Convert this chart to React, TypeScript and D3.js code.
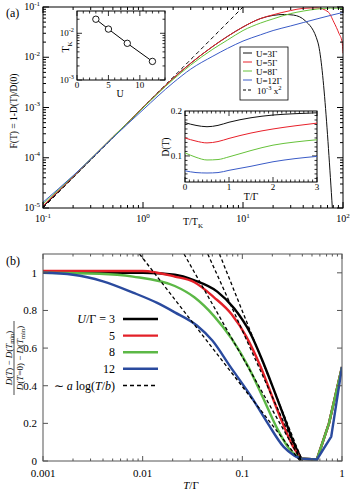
import React from "react";
import * as d3 from "d3";

const FONT = "'Liberation Serif', 'Times New Roman', serif";

// ---------- Panel (a) data ----------
const aBlackX = [0.1, 0.2, 0.5, 1, 2, 3, 5, 7, 10, 15, 20, 26, 32, 42, 56, 80];
const aBlackY = [1.05e-5, 4.1e-5, 2.55e-4, 1.0e-3, 3.8e-3, 7.6e-3, 1.65e-2, 2.6e-2, 4.0e-2, 5.9e-2, 6.8e-2, 7.1e-2, 6.9e-2, 5.3e-2, 2.0e-2, 5e-6];
const aRedX = [0.1, 0.2, 0.5, 1, 2, 3, 5, 7, 10, 15, 20, 30, 40, 55, 71, 81, 91, 98, 100];
const aRedY = [1.1e-5, 4.2e-5, 2.6e-4, 1.0e-3, 3.8e-3, 7.6e-3, 1.65e-2, 2.6e-2, 4.0e-2, 5.9e-2, 7.0e-2, 8.5e-2, 9.4e-2, 9.6e-2, 8.0e-2, 5.0e-2, 3.0e-2, 2.0e-2, 1.2e-2];
const aGreenX = [0.1, 0.2, 0.5, 1, 2, 3, 5, 7, 10, 15, 20, 30, 40, 55, 75, 100];
const aGreenY = [1.2e-5, 4.3e-5, 2.6e-4, 9.8e-4, 3.6e-3, 7.0e-3, 1.45e-2, 2.2e-2, 3.4e-2, 4.8e-2, 5.8e-2, 7.4e-2, 8.3e-2, 9.1e-2, 9.5e-2, 9.3e-2];
const aBlueX = [0.1, 0.2, 0.5, 1, 2, 3, 5, 7, 10, 15, 20, 30, 40, 55, 75, 100];
const aBlueY = [1.3e-5, 4.4e-5, 2.5e-4, 9.0e-4, 3.1e-3, 5.8e-3, 1.05e-2, 1.5e-2, 2.1e-2, 2.8e-2, 3.4e-2, 4.2e-2, 4.9e-2, 5.8e-2, 6.8e-2, 7.8e-2];
const aDashX = [0.1, 10];
const aLegend = ["U=3Γ", "U=5Γ", "U=8Γ", "U=12Γ"];
const aXExp = [-1, 0, 1, 2];
const aYExp = [-5, -4, -3, -2, -1];

// TK inset
const tkU = [3, 5, 8, 12];
const tkVal = [0.02, 0.0123, 0.0061, 0.0025];
const tkXTicks = [0, 5, 10];
const tkYExp = [-3, -2];

// D(T) inset
const dT = [0, 0.25, 0.5, 0.75, 1, 1.5, 2, 2.5, 3];
const dBlack = [0.174, 0.168, 0.165, 0.168, 0.175, 0.185, 0.191, 0.194, 0.196];
const dRed = [0.140, 0.133, 0.129, 0.132, 0.139, 0.151, 0.160, 0.167, 0.173];
const dGreen = [0.107, 0.097, 0.091, 0.092, 0.098, 0.112, 0.124, 0.131, 0.136];
const dBlue = [0.067, 0.063, 0.062, 0.063, 0.068, 0.077, 0.087, 0.094, 0.099];
const dXTicks = [0, 1, 2, 3];
const dYTicks = [0.1, 0.2];

// ---------- Panel (b) data ----------
const bBlackT = [0.001, 0.003, 0.01, 0.021, 0.033, 0.056, 0.083, 0.12, 0.16, 0.21, 0.26, 0.32, 0.39];
const bBlackV = [1.0, 1.0, 1.0, 0.99, 0.96, 0.90, 0.81, 0.68, 0.53, 0.37, 0.24, 0.11, 0.012];
const bRedT = [0.001, 0.003, 0.01, 0.021, 0.033, 0.052, 0.078, 0.11, 0.15, 0.2, 0.25, 0.32, 0.39];
const bRedV = [1.01, 1.01, 1.01, 0.98, 0.95, 0.87, 0.78, 0.66, 0.51, 0.34, 0.21, 0.08, 0.012];
const bGreenT = [0.001, 0.0037, 0.008, 0.021, 0.033, 0.052, 0.078, 0.115, 0.16, 0.22, 0.3, 0.39];
const bGreenV = [1.0, 0.995, 0.98, 0.93, 0.87, 0.77, 0.65, 0.50, 0.34, 0.18, 0.06, 0.012];
const bBlueT = [0.001, 0.002, 0.004, 0.008, 0.014, 0.021, 0.035, 0.05, 0.076, 0.12, 0.18, 0.26, 0.33, 0.39];
const bBlueV = [1.0, 0.99, 0.955, 0.895, 0.84, 0.79, 0.72, 0.64, 0.50, 0.35, 0.20, 0.075, 0.03, 0.012];
// tails beyond the minimum
const bTailT = [0.39, 0.56, 0.74, 1.0];
const bTailV = [0.012, 0.008, 0.2, 0.5];
const bBlueTailT = [0.39, 0.56, 0.78, 1.0];
const bBlueTailV = [0.012, 0.008, 0.13, 0.5];
// dashed fits a*log(T/b): [T at top (value 1.1), T at value 0]
const bFitTop = [0.0093, 0.026, 0.045, 0.059];
const bFitZero = [0.38, 0.39, 0.39, 0.40];
const bXTicks = [0.001, 0.01, 0.1, 1];
const bXLabels = ["0.001", "0.01", "0.1", "1"];
const bYTicks = [0, 0.2, 0.4, 0.6, 0.8, 1];
const bYLabels = ["0", "0.2", "0.4", "0.6", "0.8", "1"];
const bLegend = ["3", "5", "8", "12"];

const aColors = ["#111111", "#e8202a", "#66c23a", "#3a5bc7"];
const bColors = ["#000000", "#e32028", "#5cb846", "#2a4a9e"];

function logMinor(lo: number, hi: number) {
  const out: number[] = [];
  for (let e = Math.floor(Math.log10(lo)) - 1; e <= Math.ceil(Math.log10(hi)); e++)
    for (let k = 2; k <= 9; k++) {
      const v = k * Math.pow(10, e);
      if (v > lo * 1.0001 && v < hi * 0.9999) out.push(v);
    }
  return out;
}

function zip(x: number[], y: number[]) {
  return x.map((v, i) => [v, y[i]] as [number, number]);
}

function Pow10({ x, y, e, anchor = "middle", size = 10 }: any) {
  return (
    <text x={x} y={y} textAnchor={anchor} fontSize={size} fontFamily={FONT}>
      10<tspan dy={-size * 0.45} fontSize={size * 0.7}>{e}</tspan>
    </text>
  );
}

export default function App() {
  // Panel a scales
  const ax = d3.scaleLog().domain([0.1, 100]).range([43, 343]);
  const ay = d3.scaleLog().domain([1e-5, 1e-1]).range([208, 7]);
  const aLine = d3.line<[number, number]>().x((d) => ax(d[0])).y((d) => ay(d[1])).curve(d3.curveMonotoneX);
  const aSeries = [zip(aBlackX, aBlackY), zip(aRedX, aRedY), zip(aGreenX, aGreenY), zip(aBlueX, aBlueY)];
  const dashPts: [number, number][] = d3.range(0, 41).map((i) => {
    const lx = Math.log10(aDashX[0]) + (i / 40) * (Math.log10(aDashX[1]) - Math.log10(aDashX[0]));
    const x = Math.pow(10, lx);
    return [x, 1e-3 * x * x];
  });

  // TK inset
  const tx = d3.scaleLinear().domain([0, 14]).range([77, 165]);
  const ty = d3.scaleLog().domain([1e-3, 3e-2]).range([80, 11]);
  const tkLine = d3.line<[number, number]>().x((d) => tx(d[0])).y((d) => ty(d[1]));

  // D inset
  const dx = d3.scaleLinear().domain([0, 3]).range([185, 317]);
  const dy = d3.scaleLinear().domain([0.042, 0.2]).range([182, 111]);
  const dLine = d3.line<[number, number]>().x((d) => dx(d[0])).y((d) => dy(d[1])).curve(d3.curveMonotoneX);
  const dSeries = [dBlack, dRed, dGreen, dBlue];

  // Panel b scales
  const bx = d3.scaleLog().domain([0.001, 1]).range([43, 342]);
  const by = d3.scaleLinear().domain([0, 1.1]).range([461, 254]);
  const bLine = d3.line<[number, number]>().x((d) => bx(d[0])).y((d) => by(d[1])).curve(d3.curveMonotoneX);
  const bLin = d3.line<[number, number]>().x((d) => bx(d[0])).y((d) => by(d[1]));
  const bSeries = [zip(bBlackT, bBlackV), zip(bRedT, bRedV), zip(bGreenT, bGreenV), zip(bBlueT, bBlueV)];
  const bTails = [zip(bTailT, bTailV), zip(bTailT, bTailV), zip(bTailT, bTailV), zip(bBlueTailT, bBlueTailV)];

  const aMajX = aXExp.map((e) => Math.pow(10, e));
  const aMajY = aYExp.map((e) => Math.pow(10, e));
  const aMinX = logMinor(0.1, 100);
  const aMinY = logMinor(1e-5, 1e-1);
  const tkMinY = logMinor(1e-3, 3e-2);
  const bMinX = logMinor(0.001, 1);

  const st = "#000";
  const [aL, aR, aT, aB] = [43, 343, 7, 208];
  const [bL, bR, bT, bB] = [43, 342, 254, 461];

  return (
    <svg width={350} height={496} viewBox="0 0 350 496" style={{ display: "block", position: "absolute", left: 0, top: 0 }}>
      <rect x={0} y={0} width={350} height={496} fill="#fff" />
      <defs>
        <clipPath id="clipA"><rect x={aL} y={aT} width={aR - aL} height={aB - aT} /></clipPath>
        <clipPath id="clipB"><rect x={bL} y={bT} width={bR - bL} height={bB - bT} /></clipPath>
      </defs>

      {/* ================= Panel (a) ================= */}
      <text x={6} y={17} fontSize={12} fontFamily={FONT}>(a)</text>
      <g clipPath="url(#clipA)">
        <path d={aLine(dashPts) || ""} fill="none" stroke="#000" strokeWidth={1} strokeDasharray="4,3" />
        {aSeries.map((s, i) => (
          <path key={i} d={aLine(s) || ""} fill="none" stroke={aColors[i]} strokeWidth={1} />
        ))}
      </g>
      <rect x={aL} y={aT} width={aR - aL} height={aB - aT} fill="none" stroke={st} strokeWidth={1} />
      {aMajX.map((v, i) => (
        <g key={"axm" + i}>
          <line x1={ax(v)} x2={ax(v)} y1={aB} y2={aB - 6} stroke={st} />
          <line x1={ax(v)} x2={ax(v)} y1={aT} y2={aT + 6} stroke={st} />
          <Pow10 x={ax(v)} y={222} e={aXExp[i]} />
        </g>
      ))}
      {aMinX.map((v, i) => (
        <g key={"axn" + i}>
          <line x1={ax(v)} x2={ax(v)} y1={aB} y2={aB - 3} stroke={st} />
          <line x1={ax(v)} x2={ax(v)} y1={aT} y2={aT + 3} stroke={st} />
        </g>
      ))}
      {aMajY.map((v, i) => (
        <g key={"aym" + i}>
          <line x1={aL} x2={aL + 6} y1={ay(v)} y2={ay(v)} stroke={st} />
          <line x1={aR} x2={aR - 6} y1={ay(v)} y2={ay(v)} stroke={st} />
          <Pow10 x={40} y={ay(v) + 3} e={aYExp[i]} anchor="end" />
        </g>
      ))}
      {aMinY.map((v, i) => (
        <g key={"ayn" + i}>
          <line x1={aL} x2={aL + 3} y1={ay(v)} y2={ay(v)} stroke={st} />
          <line x1={aR} x2={aR - 3} y1={ay(v)} y2={ay(v)} stroke={st} />
        </g>
      ))}
      <text x={193} y={225} textAnchor="middle" fontSize={10} fontFamily={FONT}>
        T/T<tspan dy={3} fontSize={7}>K</tspan>
      </text>
      <text transform="translate(17,111) rotate(-90)" textAnchor="middle" fontSize={9.5} fontFamily={FONT}>
        F(T) = 1-D(T)/D(0)
      </text>

      {/* legend (a) */}
      <rect x={240} y={47} width={48} height={53} fill="#fff" stroke="#000" strokeWidth={0.8} />
      {aLegend.map((t, i) => (
        <g key={"al" + i}>
          <line x1={243} x2={252} y1={53 + i * 9} y2={53 + i * 9} stroke={aColors[i]} strokeWidth={1} />
          <text x={256} y={56.5 + i * 9} fontSize={9} fontFamily={FONT}>{t}</text>
        </g>
      ))}
      <line x1={243} x2={252} y1={90} y2={90} stroke="#000" strokeDasharray="3,2" />
      <text x={257} y={94} fontSize={9} fontFamily={FONT}>
        10<tspan dy={-4} fontSize={6.5}>-3</tspan><tspan dy={4}> x</tspan><tspan dy={-4} fontSize={6.5}>2</tspan>
      </text>

      {/* TK inset */}
      <rect x={77} y={11} width={88} height={69} fill="#fff" stroke="#000" strokeWidth={1} />
      {d3.range(0, 15).map((v) => (
        <g key={"tkx" + v}>
          <line x1={tx(v)} x2={tx(v)} y1={80} y2={tkXTicks.includes(v) ? 75 : 77.5} stroke={st} strokeWidth={0.8} />
          <line x1={tx(v)} x2={tx(v)} y1={11} y2={tkXTicks.includes(v) ? 16 : 13.5} stroke={st} strokeWidth={0.8} />
        </g>
      ))}
      {tkXTicks.map((v) => (
        <text key={"tkxl" + v} x={tx(v)} y={88} textAnchor="middle" fontSize={9} fontFamily={FONT}>{v}</text>
      ))}
      {tkYExp.map((e) => (
        <g key={"tky" + e}>
          <line x1={77} x2={82} y1={ty(Math.pow(10, e))} y2={ty(Math.pow(10, e))} stroke={st} strokeWidth={0.8} />
          <line x1={165} x2={160} y1={ty(Math.pow(10, e))} y2={ty(Math.pow(10, e))} stroke={st} strokeWidth={0.8} />
          <Pow10 x={74} y={ty(Math.pow(10, e)) + 3} e={e} anchor="end" size={9} />
        </g>
      ))}
      {tkMinY.map((v, i) => (
        <g key={"tkyn" + i}>
          <line x1={77} x2={79.5} y1={ty(v)} y2={ty(v)} stroke={st} strokeWidth={0.8} />
          <line x1={165} x2={162.5} y1={ty(v)} y2={ty(v)} stroke={st} strokeWidth={0.8} />
        </g>
      ))}
      <path d={tkLine(zip(tkU, tkVal)) || ""} fill="none" stroke="#000" strokeWidth={1} />
      {tkU.map((u, i) => (
        <circle key={"tkc" + i} cx={tx(u)} cy={ty(tkVal[i])} r={3.2} fill="#fff" stroke="#000" strokeWidth={0.9} />
      ))}
      <text x={120} y={97} textAnchor="middle" fontSize={10} fontFamily={FONT}>U</text>
      <text transform="translate(69,47) rotate(-90)" textAnchor="middle" fontSize={10} fontFamily={FONT}>
        T<tspan dy={3} fontSize={7}>K</tspan>
      </text>

      {/* D(T) inset */}
      <rect x={185} y={111} width={132} height={71} fill="#fff" stroke="#000" strokeWidth={1} />
      {d3.range(0, 31).map((k) => {
        const v = k / 10;
        const maj = k % 10 === 0;
        return (
          <g key={"dxt" + k}>
            <line x1={dx(v)} x2={dx(v)} y1={182} y2={maj ? 177 : 179.5} stroke={st} strokeWidth={0.8} />
            <line x1={dx(v)} x2={dx(v)} y1={111} y2={maj ? 116 : 113.5} stroke={st} strokeWidth={0.8} />
          </g>
        );
      })}
      {d3.range(5, 20).map((k) => {
        const v = k / 100;
        const maj = k % 10 === 0;
        return (
          <g key={"dyt" + k}>
            <line x1={185} x2={maj ? 190 : 187.5} y1={dy(v)} y2={dy(v)} stroke={st} strokeWidth={0.8} />
            <line x1={317} x2={maj ? 312 : 314.5} y1={dy(v)} y2={dy(v)} stroke={st} strokeWidth={0.8} />
          </g>
        );
      })}
      {dXTicks.map((v) => (
        <text key={"dxl" + v} x={dx(v)} y={190} textAnchor="middle" fontSize={9} fontFamily={FONT}>{v}</text>
      ))}
      {dYTicks.map((v) => (
        <text key={"dyl" + v} x={182} y={dy(v) + 3} textAnchor="end" fontSize={9} fontFamily={FONT}>{v}</text>
      ))}
      {dSeries.map((s, i) => (
        <path key={"ds" + i} d={dLine(zip(dT, s)) || ""} fill="none" stroke={aColors[i]} strokeWidth={1} />
      ))}
      <text x={251} y={200} textAnchor="middle" fontSize={10} fontFamily={FONT}>T/Γ</text>
      <text transform="translate(169,147) rotate(-90)" textAnchor="middle" fontSize={9.5} fontFamily={FONT}>D(T)</text>

      {/* ================= Panel (b) ================= */}
      <text x={6} y={265} fontSize={12} fontFamily={FONT}>(b)</text>
      <g clipPath="url(#clipB)">
        {bSeries.map((s, i) => (
          <g key={"bs" + i}>
            <path d={bLine(s) || ""} fill="none" stroke={bColors[i]} strokeWidth={2.4} strokeLinejoin="round" />
            <path d={bLin(bTails[i]) || ""} fill="none" stroke={bColors[i]} strokeWidth={2.4} strokeLinejoin="round" />
          </g>
        ))}
        {bFitTop.map((t0, i) => {
          const t1 = bFitZero[i];
          const a = 1.1 / Math.log10(t1 / t0);
          const pts: [number, number][] = [t0, t1].map((t) => [t, a * Math.log10(t1 / t)] as [number, number]);
          return (
            <line key={"fit" + i} x1={bx(pts[0][0])} y1={by(pts[0][1])} x2={bx(pts[1][0])} y2={by(pts[1][1])}
              stroke="#000" strokeWidth={1.3} strokeDasharray="3.5,2.5" />
          );
        })}
      </g>
      <rect x={bL} y={bT} width={bR - bL} height={bB - bT} fill="none" stroke="#555" strokeWidth={1} />
      {bXTicks.map((v, i) => (
        <g key={"bxm" + i}>
          <line x1={bx(v)} x2={bx(v)} y1={bB} y2={bB - 5} stroke="#555" />
          <line x1={bx(v)} x2={bx(v)} y1={bT} y2={bT + 5} stroke="#555" />
          <text x={bx(v)} y={477} textAnchor="middle" fontSize={11} fontFamily={FONT}>{bXLabels[i]}</text>
        </g>
      ))}
      {bMinX.map((v, i) => (
        <g key={"bxn" + i}>
          <line x1={bx(v)} x2={bx(v)} y1={bB} y2={bB - 2.5} stroke="#555" />
          <line x1={bx(v)} x2={bx(v)} y1={bT} y2={bT + 2.5} stroke="#555" />
        </g>
      ))}
      {bYTicks.map((v, i) => (
        <g key={"bym" + i}>
          <line x1={bL} x2={bL + 5} y1={by(v)} y2={by(v)} stroke="#555" />
          <line x1={bR} x2={bR - 5} y1={by(v)} y2={by(v)} stroke="#555" />
          <text x={37} y={by(v) + 4} textAnchor="end" fontSize={11} fontFamily={FONT}>{bYLabels[i]}</text>
        </g>
      ))}
      <text x={191} y={489} textAnchor="middle" fontSize={11} fontFamily={FONT}>
        <tspan fontStyle="italic">T</tspan>/Γ
      </text>
      <g transform="translate(14,358) rotate(-90)" fontFamily={FONT} fontSize={9}>
        <text x={0} y={-2.5} textAnchor="middle">
          <tspan fontStyle="italic">D</tspan>(<tspan fontStyle="italic">T</tspan>) − <tspan fontStyle="italic">D</tspan>(<tspan fontStyle="italic">T</tspan><tspan dy={2} fontSize={6.5}>min</tspan><tspan dy={-2}>)</tspan>
        </text>
        <line x1={-37} x2={37} y1={0} y2={0} stroke="#000" strokeWidth={0.7} />
        <text x={0} y={8.5} textAnchor="middle">
          <tspan fontStyle="italic">D</tspan>(<tspan fontStyle="italic">T</tspan>=0) − <tspan fontStyle="italic">D</tspan>(<tspan fontStyle="italic">T</tspan><tspan dy={2} fontSize={6.5}>min</tspan><tspan dy={-2}>)</tspan>
        </text>
      </g>

      {/* legend (b) */}
      {bLegend.map((t, i) => (
        <g key={"bl" + i}>
          <line x1={123} x2={158} y1={319 + i * 16.6} y2={319 + i * 16.6} stroke={bColors[i]} strokeWidth={2.4} />
          <text x={115} y={323 + i * 16.6} textAnchor="end" fontSize={12} fontFamily={FONT}>
            {i === 0 ? (
              <>
                <tspan fontStyle="italic">U</tspan>/Γ = 3
              </>
            ) : t}
          </text>
        </g>
      ))}
      <line x1={123} x2={158} y1={385.5} y2={385.5} stroke="#000" strokeWidth={1.4} strokeDasharray="4,3" />
      <text x={115} y={389.5} textAnchor="end" fontSize={12} fontFamily={FONT}>
        ∼ <tspan fontStyle="italic">a</tspan> log(<tspan fontStyle="italic">T</tspan>/<tspan fontStyle="italic">b</tspan>)
      </text>
    </svg>
  );
}
